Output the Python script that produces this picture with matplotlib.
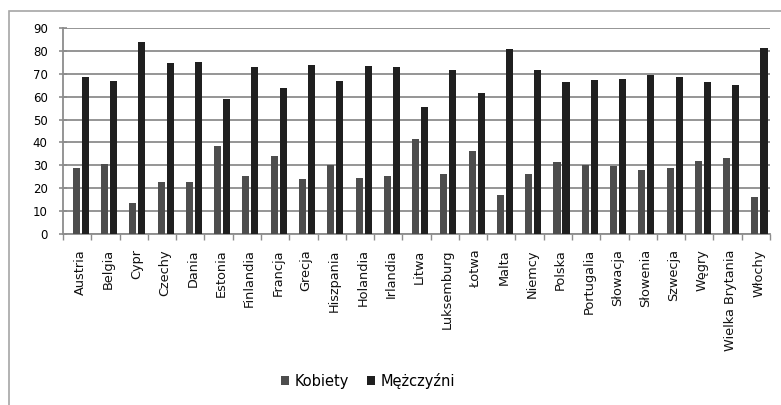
import matplotlib
matplotlib.use("Agg")
import matplotlib.pyplot as plt
import numpy as np
from matplotlib.patches import Rectangle

countries = ["Austria", "Belgia", "Cypr", "Czechy", "Dania", "Estonia", "Finlandia",
             "Francja", "Grecja", "Hiszpania", "Holandia", "Irlandia", "Litwa",
             "Luksemburg", "Łotwa", "Malta", "Niemcy", "Polska", "Portugalia",
             "Słowacja", "Słowenia", "Szwecja", "Węgry", "Wielka Brytania", "Włochy"]
kobiety = [29.0, 30.6, 13.6, 22.9, 22.9, 38.4, 25.2, 34.2, 24.0, 30.0, 24.5, 25.2, 41.3,
           26.2, 36.4, 16.9, 26.2, 31.4, 30.2, 29.6, 28.0, 29.0, 31.8, 33.0, 16.3]
mezczyzni = [68.6, 66.8, 83.7, 74.8, 75.2, 58.9, 73.0, 63.8, 73.9, 66.8, 73.4, 73.0, 55.4,
             71.7, 61.6, 80.9, 71.7, 66.4, 67.3, 67.7, 69.5, 68.6, 66.4, 65.1, 81.4]
series_names = ["Kobiety", "Mężczyźni"]
yticks = list(range(0, 91, 10))

W, H = 781, 405
fig = plt.figure(figsize=(W / 100, H / 100), dpi=100)
fig.patch.set_facecolor("white")

# outer chart frame (extends beyond image at right/bottom)
fig.patches.append(Rectangle((9 / W, -0.1), 1.2, (H - 11) / H + 0.1, transform=fig.transFigure,
                             fill=False, edgecolor="#a6a6a6", linewidth=1.2))

ax = fig.add_axes([63 / W, (H - 234) / H, (770 - 63) / W, (234 - 28) / H])
x = np.arange(len(countries))
c_k = "#4d4d4d"
c_m = "#1f1f1f"
ax.bar(x - 0.032, kobiety, width=0.25, color=c_k, zorder=3, label=series_names[0])
ax.bar(x + 0.287, mezczyzni, width=0.25, color=c_m, zorder=3, label=series_names[1])

ax.set_xlim(-0.5, len(countries) - 0.5)
ax.set_ylim(0, 90)
ax.set_yticks(yticks)
ax.set_yticklabels([str(v) for v in yticks], fontsize=8.5, family="DejaVu Sans")
ax.yaxis.grid(True, color="#8c8c8c", linewidth=1.3, zorder=0)
ax.set_axisbelow(True)
for s in ["top", "right"]:
    ax.spines[s].set_visible(False)
ax.spines["left"].set_color("#8c8c8c")
ax.spines["bottom"].set_color("#8c8c8c")
ax.spines["left"].set_linewidth(1.3)
ax.spines["bottom"].set_linewidth(1.3)
ax.tick_params(axis="y", direction="inout", length=6, color="#8c8c8c", width=1.2, pad=8)

# x: ticks at category boundaries, labels at centers
ax.set_xticks(np.arange(-0.5, len(countries), 1.0))
ax.tick_params(axis="x", which="major", direction="out", length=4, color="#8c8c8c",
               width=1.0, labelbottom=False)
ax.set_xticks(x + 0.1, minor=True)
ax.set_xticklabels(countries, minor=True, rotation=90, fontsize=9.3, family="DejaVu Sans",
                   color="#111111")
ax.tick_params(axis="x", which="minor", length=0, pad=11)

fig.legend(loc="center", bbox_to_anchor=(368 / W, (H - 381) / H), ncol=2, frameon=False,
           prop={"family": "DejaVu Sans", "size": 10.5}, handlelength=0.55, handleheight=0.55,
           handletextpad=0.4, columnspacing=1.2)

fig.savefig("out.png", dpi=100, facecolor="white")
